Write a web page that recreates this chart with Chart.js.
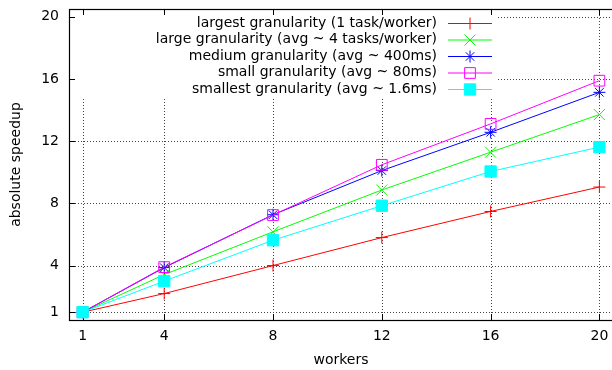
<!DOCTYPE html>
<html>
<head>
<meta charset="utf-8">
<title>Absolute speedup by task granularity</title>
<script src="https://cdn.jsdelivr.net/npm/chart.js@4/dist/chart.umd.min.js"></script>
<style>
  html, body { margin: 0; padding: 0; background: #fff; overflow: hidden; }
  #wrap { width: 622px; height: 370px; position: relative; }
</style>
</head>
<body>
<div id="wrap"><canvas id="chart"></canvas></div>
<script>
// Worker counts on the x axis and tick positions for both axes
const workers = [1, 4, 8, 12, 16, 20];
const xTickValues = [1, 4, 8, 12, 16, 20];
const yTickValues = [1, 4, 8, 12, 16, 20];

// Series names
const seriesNames = [
  'largest granularity (1 task/worker)',
  'large granularity (avg ~ 4 tasks/worker)',
  'medium granularity (avg ~ 400ms)',
  'small granularity (avg ~ 80ms)',
  'smallest granularity (avg ~ 1.6ms)'
];

// Measured absolute speedup per worker count
const largestGranularity  = [1, 2.2, 4.0, 5.8, 7.48, 9.05];
const largeGranularity    = [1, 3.42, 6.17, 8.86, 11.29, 13.71];
const mediumGranularity   = [1, 3.87, 7.27, 10.11, 12.57, 15.14];
const smallGranularity    = [1, 3.9, 7.25, 10.48, 13.11, 15.89];
const smallestGranularity = [1, 3.0, 5.63, 7.85, 10.05, 11.62];

const seriesValues = [largestGranularity, largeGranularity, mediumGranularity, smallGranularity, smallestGranularity];

// Line / marker styling per series
const styles = [
  { color: '#ff0000', point: 'cross',    radius: 6,   fill: '#ff0000' },
  { color: '#00ff00', point: 'crossRot', radius: 7.8, fill: '#00ff00' },
  { color: '#0000ff', point: 'star',     radius: 6,   fill: '#0000ff' },
  { color: '#ff00ff', point: 'rect',     radius: 7.6, fill: 'rgba(0,0,0,0)' },
  { color: '#00ffff', point: 'rect',     radius: 8,   fill: '#00ffff' }
];

const FONT = 'DejaVu Sans';
const FONT_SIZE = 14;

const datasets = seriesValues.map((vals, i) => ({
  label: seriesNames[i],
  data: workers.map((w, j) => ({ x: w, y: vals[j] })),
  borderColor: styles[i].color,
  borderWidth: 1,
  pointStyle: styles[i].point,
  pointRadius: styles[i].radius,
  pointBorderWidth: 1,
  pointBorderColor: styles[i].color,
  pointBackgroundColor: styles[i].fill,
  pointHoverRadius: styles[i].radius,
  tension: 0,
  fill: false,
  order: seriesValues.length - i   // later series drawn on top
}));

// Key layout
const KEY = { textRight: 437, sampleL: 448, sampleR: 492, top: 23, step: 16.5 };

function drawMarker(ctx, style, x, y) {
  const r = style.radius;
  ctx.beginPath();
  if (style.point === 'cross') {
    ctx.moveTo(x - r, y); ctx.lineTo(x + r, y);
    ctx.moveTo(x, y - r); ctx.lineTo(x, y + r);
    ctx.stroke();
  } else if (style.point === 'crossRot') {
    const d = r * Math.SQRT1_2;
    ctx.moveTo(x - d, y - d); ctx.lineTo(x + d, y + d);
    ctx.moveTo(x - d, y + d); ctx.lineTo(x + d, y - d);
    ctx.stroke();
  } else if (style.point === 'star') {
    const d = r * Math.SQRT1_2;
    ctx.moveTo(x - r, y); ctx.lineTo(x + r, y);
    ctx.moveTo(x, y - r); ctx.lineTo(x, y + r);
    ctx.moveTo(x - d, y - d); ctx.lineTo(x + d, y + d);
    ctx.moveTo(x - d, y + d); ctx.lineTo(x + d, y - d);
    ctx.stroke();
  } else {
    const s = r * Math.SQRT1_2;
    ctx.rect(x - s, y - s, 2 * s, 2 * s);
    ctx.fillStyle = style.fill;
    ctx.fill();
    ctx.stroke();
  }
}

const frame = {
  id: 'frame',
  beforeDatasetsDraw(chart) {
    const { ctx, chartArea: a, scales: { x, y } } = chart;
    ctx.save();
    // dotted grid
    ctx.strokeStyle = '#444';
    ctx.lineWidth = 1;
    ctx.setLineDash([1, 2]);
    ctx.beginPath();
    x.ticks.forEach(t => {
      const px = Math.round(x.getPixelForValue(t.value)) + 0.5;
      ctx.moveTo(px, a.top); ctx.lineTo(px, a.bottom);
    });
    y.ticks.forEach(t => {
      const py = Math.round(y.getPixelForValue(t.value)) + 0.5;
      ctx.moveTo(a.left, py); ctx.lineTo(a.right, py);
    });
    ctx.stroke();
    ctx.setLineDash([]);

    // key background hides the grid behind the key
    const kTop = KEY.top - 8;
    const kBottom = KEY.top + KEY.step * (seriesNames.length - 1) + 8;
    ctx.fillStyle = '#fff';
    ctx.fillRect(a.left + 1, kTop, KEY.sampleR + 5 - a.left, kBottom - kTop);

    // border
    ctx.strokeStyle = '#000';
    ctx.lineWidth = 1.2;
    ctx.strokeRect(a.left + 0.5, a.top + 0.5, a.right - a.left, a.bottom - a.top);

    // inward tick marks (mirrored on top)
    ctx.lineWidth = 1;
    ctx.beginPath();
    x.ticks.forEach(t => {
      const px = Math.round(x.getPixelForValue(t.value)) + 0.5;
      ctx.moveTo(px, a.bottom); ctx.lineTo(px, a.bottom - 6);
      ctx.moveTo(px, a.top); ctx.lineTo(px, a.top + 6);
    });
    y.ticks.forEach(t => {
      const py = Math.round(y.getPixelForValue(t.value)) + 0.5;
      ctx.moveTo(a.left, py); ctx.lineTo(a.left + 6, py);
    });
    ctx.stroke();
    ctx.restore();
  },
  afterDatasetsDraw(chart) {
    const { ctx } = chart;
    ctx.save();
    ctx.font = FONT_SIZE + 'px "' + FONT + '"';
    ctx.textAlign = 'right';
    ctx.textBaseline = 'middle';
    chart.data.datasets.forEach((ds, i) => {
      const yy = KEY.top + i * KEY.step;
      ctx.fillStyle = '#000';
      ctx.fillText(ds.label, KEY.textRight, yy);
      ctx.strokeStyle = styles[i].color;
      ctx.lineWidth = 1;
      ctx.beginPath();
      ctx.moveTo(KEY.sampleL, yy + 0.5); ctx.lineTo(KEY.sampleR, yy + 0.5);
      ctx.stroke();
      drawMarker(ctx, styles[i], (KEY.sampleL + KEY.sampleR) / 2, yy + 0.5);
    });
    ctx.restore();
  }
};

new Chart(document.getElementById('chart'), {
  type: 'line',
  data: { datasets },
  options: {
    responsive: true,
    maintainAspectRatio: false,
    animation: false,
    devicePixelRatio: 1,
    layout: { padding: { top: 7, right: 0, bottom: 0, left: 0 } },
    plugins: { legend: { display: false }, tooltip: { enabled: false } },
    scales: {
      x: {
        type: 'linear',
        min: 0.5,
        max: 20.5,
        afterBuildTicks: s => { s.ticks = xTickValues.map(v => ({ value: v })); },
        afterFit: s => { s.height = 50; },
        grid: { display: false, drawTicks: false },
        border: { display: false },
        ticks: { color: '#000', padding: 8, maxRotation: 0, font: { family: FONT, size: FONT_SIZE } },
        title: { display: true, text: 'workers', color: '#000', padding: { top: 0, bottom: 1 }, font: { family: FONT, size: FONT_SIZE } }
      },
      y: {
        type: 'linear',
        min: 0.5,
        max: 20.5,
        afterBuildTicks: s => { s.ticks = yTickValues.map(v => ({ value: v })); },
        afterFit: s => { s.width = 69; s.paddingTop = 0; s.paddingBottom = 0; },
        grid: { display: false, drawTicks: false },
        border: { display: false },
        ticks: { color: '#000', padding: 10, font: { family: FONT, size: FONT_SIZE } },
        title: { display: true, text: 'absolute speedup', color: '#000', padding: { top: 8, bottom: 0 }, font: { family: FONT, size: FONT_SIZE } }
      }
    }
  },
  plugins: [frame]
});
</script>
</body>
</html>
